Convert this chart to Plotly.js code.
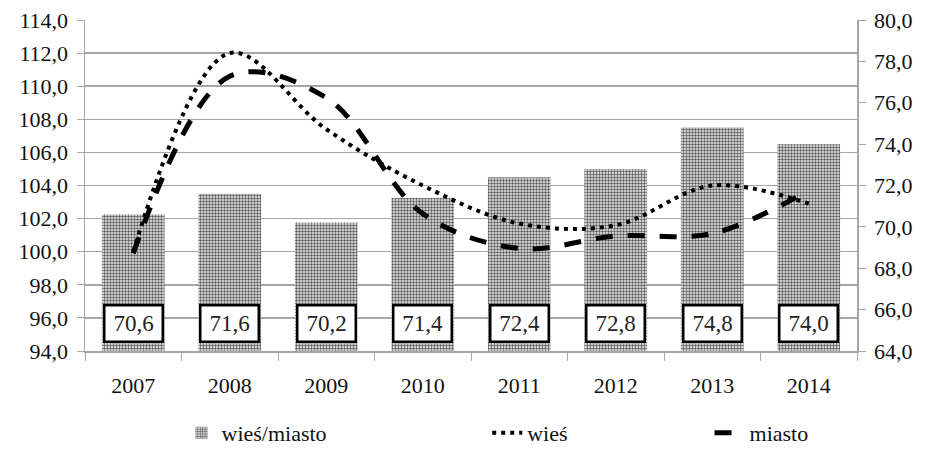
<!DOCTYPE html>
<html>
<head>
<meta charset="utf-8">
<script src="https://cdn.plot.ly/plotly-3.0.1.min.js"></script>
<style>
html,body{margin:0;padding:0;background:#fff;}
#chart{width:926px;height:454px;}
#chart text{font-family:'Times New Roman','Liberation Serif',serif !important;}
</style>
</head>
<body>
<div id="chart"></div>
<script>
var years = ['2007','2008','2009','2010','2011','2012','2013','2014'];
var ratio = [70.6, 71.6, 70.2, 71.4, 72.4, 72.8, 74.8, 74.0];          // wieś/miasto (right axis)
var wies = [100.0, 112.0, 107.4, 104.0, 101.7, 101.6, 104.0, 102.9];   // left axis
var miasto = [99.9, 110.6, 109.3, 102.3, 100.2, 100.95, 101.1, 103.7]; // left axis
var leftTicks = [94,96,98,100,102,104,106,108,110,112,114];
var rightTicks = [64,66,68,70,72,74,76,78,80];

var FONT = "'Times New Roman', 'Liberation Serif', serif";
var GRID = '#a6a6a6';
var TXT = '#111';

var traces = [
  {
    type: 'bar', x: years, y: ratio, name: 'wieś/miasto',
    yaxis: 'y', width: 0.65, legend: 'legend',
    marker: { color: '#bdbdbd', line: {width: 0},
      pattern: { shape: '.', fgcolor: '#5a5a5a', bgcolor: '#eeeeee', size: 3, solidity: 0.5 } }
  },
  {
    type: 'scatter', mode: 'lines', x: years, y: wies, name: 'wieś', yaxis: 'y2', legend: 'legend2',
    line: { color: '#000', width: 4, dash: '4px,5px', shape: 'spline', smoothing: 1 }
  },
  {
    type: 'scatter', mode: 'lines', x: years, y: miasto, name: 'miasto', yaxis: 'y2', legend: 'legend3',
    line: { color: '#000', width: 5, dash: '17px,15px', shape: 'spline', smoothing: 1 }
  }
];

var annotations = years.map(function (yr, i) {
  return {
    x: i, y: 64.39, xref: 'x', yref: 'y', yanchor: 'bottom', showarrow: false,
    text: ratio[i].toFixed(1).replace('.', ','),
    font: { family: FONT, size: 23, color: '#222' },
    bgcolor: '#fff', bordercolor: '#000', borderwidth: 2.5, borderpad: 2,
    width: 52, height: 30
  };
});

function leg(x) {
  return { orientation: 'h', yref: 'container', yanchor: 'bottom', y: 0, xanchor: 'left', x: x,
    font: { family: FONT, size: 22, color: TXT }, bgcolor: 'rgba(0,0,0,0)' };
}

var layout = {
  width: 926, height: 454,
  margin: { l: 85, r: 69, t: 20, b: 103 },
  paper_bgcolor: '#fff', plot_bgcolor: '#fff',
  separators: ',.',
  font: { family: FONT, size: 22, color: TXT },
  showlegend: true,
  legend: leg(0.125),
  legend2: leg(0.521),
  legend3: leg(0.809),
  xaxis: {
    type: 'category', categoryorder: 'array', categoryarray: years, range: [-0.5, 7.5],
    showgrid: false, showline: true, linecolor: GRID, linewidth: 1.5,
    ticks: 'outside', tickson: 'boundaries', ticklen: 8, tickcolor: GRID,
    ticklabelstandoff: 14, automargin: false,
    tickfont: { family: FONT, size: 22, color: TXT }, zeroline: false
  },
  yaxis: {
    side: 'right', range: [64, 80], tickvals: rightTicks, tickformat: '.1f',
    showgrid: false, zeroline: false, showline: true, linecolor: GRID, linewidth: 1.5,
    ticks: 'outside', ticklen: 7, tickcolor: GRID, ticklabelstandoff: 4, automargin: false,
    tickfont: { family: FONT, size: 22, color: TXT }
  },
  yaxis2: {
    overlaying: 'y', side: 'left', range: [94, 114], tickvals: leftTicks, tickformat: '.1f',
    showgrid: true, gridcolor: GRID, gridwidth: 1.5, zeroline: false,
    showline: true, linecolor: GRID, linewidth: 1.5,
    ticks: 'outside', ticklen: 7, tickcolor: GRID, ticklabelstandoff: 4, automargin: false,
    tickfont: { family: FONT, size: 22, color: TXT }
  },
  annotations: annotations
};

Plotly.newPlot('chart', traces, layout, { displayModeBar: false, staticPlot: true });
</script>
</body>
</html>
